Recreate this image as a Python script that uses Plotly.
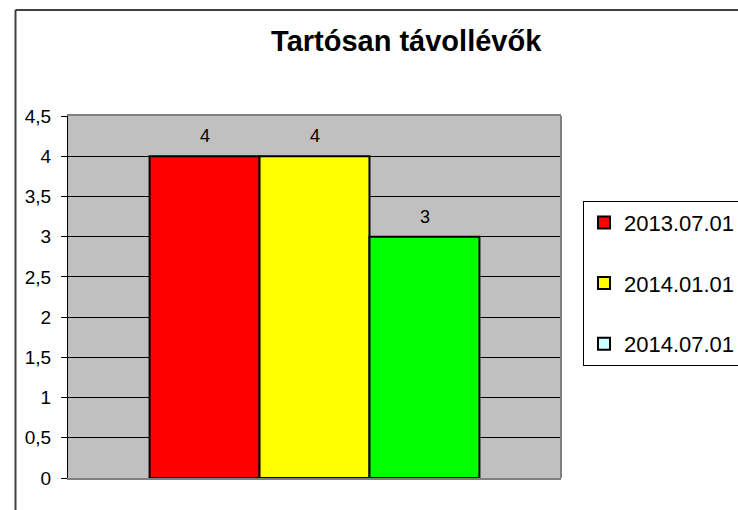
import plotly.graph_objects as go

# Chart data
category = ["Tartósan távollévők"]
dates = ["2013.07.01", "2014.01.01", "2014.07.01"]
values = [4, 4, 3]
bar_colors = ["#FF0000", "#FFFF00", "#00FF00"]
legend_colors = ["#FF0000", "#FFFF00", "#CCFFFF"]
y_ticks = [0, 0.5, 1, 1.5, 2, 2.5, 3, 3.5, 4, 4.5]

FONT = "Liberation Sans, Arial, sans-serif"

fig = go.Figure()

for i, (name, val) in enumerate(zip(dates, values)):
    same_colour = bar_colors[i] == legend_colors[i]
    fig.add_trace(go.Bar(
        x=category, y=[val], name=name, offsetgroup=name,
        marker=dict(color=bar_colors[i], line=dict(color="#000000", width=2)),
        showlegend=same_colour, legendgroup=name, cliponaxis=False,
    ))
    if not same_colour:
        # legend swatch for this series uses its own colour
        fig.add_trace(go.Bar(
            x=category, y=[None], name=name,
            marker=dict(color=legend_colors[i], line=dict(color="#000000", width=2)),
            xaxis="x2", yaxis="y2", legendgroup=name, showlegend=True,
        ))

# value labels above each bar, positioned by the bar's own offset group
n = len(values)
for i, val in enumerate(values):
    fig.add_annotation(
        x=category[0], y=val, xref="x", yref="y",
        text=str(val), showarrow=False, yanchor="middle", yshift=20,
        xshift=(i - (n - 1) / 2) * 110,
        font=dict(family=FONT, size=18, color="#000000"),
    )

fig.update_layout(
    width=738, height=510,
    margin=dict(l=68, r=177, t=116, b=32, autoexpand=False),
    paper_bgcolor="#FFFFFF", plot_bgcolor="#C0C0C0",
    separators=", ",
    barmode="group", bargap=0.331, bargroupgap=0,
    title=dict(text="<b>Tartósan távollévők</b>", x=0.686, xref="paper",
               xanchor="center", y=1 - 41 / 510, yref="container", yanchor="middle",
               font=dict(family=FONT, size=29, color="#000000")),
    xaxis=dict(showticklabels=False, showgrid=False, zeroline=False,
               showline=True, linecolor="#808080", linewidth=2, mirror=True, ticks=""),
    yaxis=dict(range=[0, 4.5], tickvals=y_ticks, showgrid=True, gridcolor="#000000",
               gridwidth=1, zeroline=False, showline=True, linecolor="#000000",
               linewidth=1, ticks="outside", ticklen=6, tickcolor="#000000",
               ticklabelstandoff=6,
               tickfont=dict(family=FONT, size=19, color="#000000")),
    xaxis2=dict(visible=False, overlaying="x"),
    yaxis2=dict(visible=False, overlaying="y"),
    legend=dict(x=1.0446, xanchor="left", y=0.766, yanchor="top",
                bordercolor="#000000", borderwidth=1, bgcolor="#FFFFFF",
                tracegroupgap=29, traceorder="grouped",
                font=dict(family=FONT, size=22, color="#000000")),
    shapes=[
        # right-hand border of the plot area
        dict(type="line", xref="paper", yref="paper", x0=1, x1=1, y0=0, y1=1,
             line=dict(color="#808080", width=2)),
        # outer chart frame (left and top edges)
        dict(type="line", xref="paper", yref="paper", x0=-0.1065, x1=-0.1065,
             y0=1.2928, y1=-0.1, line=dict(color="#404040", width=2)),
        dict(type="line", xref="paper", yref="paper", x0=-0.1065, x1=1.4,
             y0=1.2928, y1=1.2928, line=dict(color="#404040", width=2)),
    ],
)

fig.write_html("out.html")
